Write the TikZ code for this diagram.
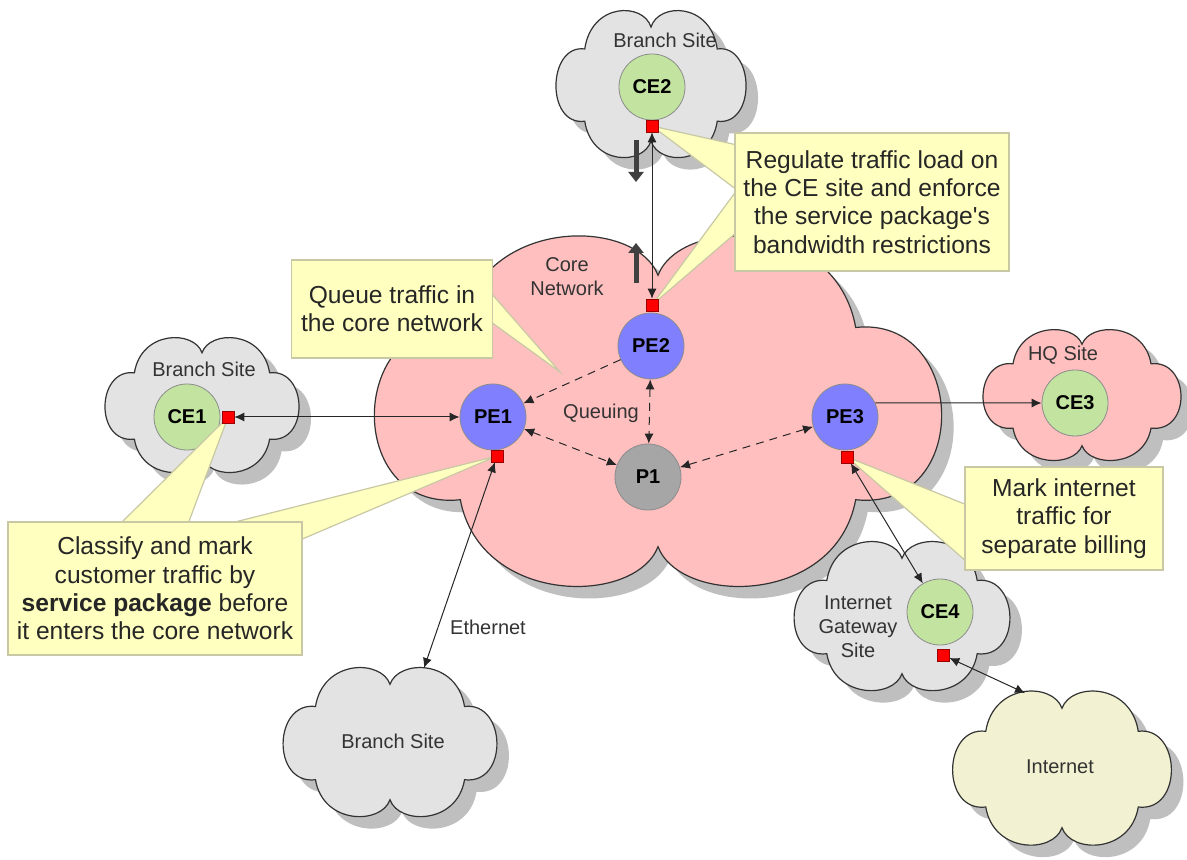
\documentclass[tikz,border=0pt]{standalone}
\usepackage{fontspec}
\setmainfont{Liberation Sans}[Ligatures=TeXOff]
\usetikzlibrary{arrows.meta}

\definecolor{sitegray}{RGB}{227,227,227}
\definecolor{corepink}{RGB}{255,191,191}
\definecolor{netyellow}{RGB}{242,242,210}
\definecolor{shadowgray}{RGB}{191,191,191}
\definecolor{cegreen}{RGB}{194,228,160}
\definecolor{peblue}{RGB}{128,128,255}
\definecolor{pgray}{RGB}{166,166,166}
\definecolor{notefill}{RGB}{255,255,192}
\definecolor{noteline}{RGB}{200,200,165}
\definecolor{arrowdark}{RGB}{64,64,64}

\tikzset{
  cloudpath/.style={insert path={(0,0.78)
    .. controls (0.08,1.12) and (0.62,1.12) .. (0.69,0.48)
    .. controls (1.08,0.55) and (1.1,-0.58) .. (0.69,-0.51)
    .. controls (0.62,-1.12) and (0.08,-1.12) .. (0,-0.78)
    .. controls (-0.08,-1.12) and (-0.62,-1.12) .. (-0.69,-0.51)
    .. controls (-1.1,-0.58) and (-1.08,0.55) .. (-0.69,0.48)
    .. controls (-0.62,1.12) and (-0.08,1.12) .. (0,0.78) -- cycle}},
  pics/site/.style n args={3}{code={
    \fill[shadowgray, shift={(12,12)}, xscale=#1, yscale=-#2, cloudpath];
    \draw[black!80, line width=0.6pt, fill=#3, xscale=#1, yscale=-#2, cloudpath];
    \coordinate (-c) at (0,0);
  }},
  router/.style={circle, minimum size=33pt, inner sep=0pt, draw=black!45,
    font=\bfseries\fontsize{10}{12}\selectfont},
  port/.style={rectangle, minimum size=6pt, inner sep=0pt, fill=red, draw=red!60!black, line width=0.3pt},
  lbl/.style={font=\fontsize{10}{12}\selectfont, text=black!80, align=center},
  note/.style={rectangle, fill=notefill, draw=noteline, line width=0.6pt, align=center,
    font=\fontsize{12.3}{14.2}\selectfont, text=black!85},
  wedge/.style={fill=notefill, draw=noteline, line width=0.6pt},
  link/.style={black!85, line width=0.5pt, {Latex[length=5pt,width=4.5pt]}-{Latex[length=5pt,width=4.5pt]}},
  qlink/.style={black!85, line width=0.5pt, dash pattern=on 4pt off 3pt},
  flow/.style={arrowdark, line width=2.5pt, -{Triangle[length=5pt,width=7.5pt]}}
}

\begin{document}
\begin{tikzpicture}[x=0.5pt,y=-0.5pt]
	\useasboundingbox (0,0) rectangle (1187,860);
	%\draw[help lines,step=50] (0,0) grid (1187,860);
	% sites
	\pic (core) at (658,411) {site={286.5}{174}{corepink}};
	\pic (brT) at (651,84) {site={96}{73}{sitegray}};
	\pic (brL) at (202,405) {site={98}{67}{sitegray}};
	\pic (hq) at (1082,395) {site={100}{65}{corepink}};
	\pic (gw) at (902,616) {site={109}{74}{sitegray}};
	\pic (inet) at (1062,768) {site={110.5}{76.5}{netyellow}};
	\pic (brB) at (390,742) {site={108}{74}{sitegray}};

	\node[lbl] (brTlbl) at (665,40) {Branch Site};
	\node[lbl] (brLlbl) at (204,369) {Branch Site};
	\node[lbl] (corelbl) at (567,277) {Core\\Network};
	\node[lbl] (hqlbl) at (1063,355) {HQ Site};
	\node[lbl] (gwlbl) at (858,627) {Internet\\Gateway\\Site};
	\node[lbl] (inetlbl) at (1060,767) {Internet};
	\node[lbl] (brBlbl) at (393,741) {Branch Site};
	\node[lbl] (queuelbl) at (601,413) {Queuing};
	\node[lbl] (ethlbl) at (488,627) {Ethernet};

	% routers
	\node[router, fill=cegreen] (ce2) at (652,87) {CE2};
	\node[router, fill=cegreen] (ce1) at (187,417) {CE1};
	\node[router, fill=cegreen] (ce3) at (1075,403) {CE3};
	\node[router, fill=cegreen] (ce4) at (940,612) {CE4};
	\node[router, fill=peblue] (pe1) at (493,417) {PE1};
	\node[router, fill=peblue] (pe2) at (651,346) {PE2};
	\node[router, fill=peblue] (pe3) at (845,417) {PE3};
	\node[router, fill=pgray] (p1) at (648,477) {P1};

	\coordinate (ce2p) at (652,126);
	\coordinate (pe2p) at (652,305);
	\coordinate (ce1p) at (228,417);
	\coordinate (pe1p) at (497,456);
	\coordinate (pe3p) at (847,457);
	\coordinate (ce4p) at (943,655);
	\coordinate (queuetip) at (560,372);

	% callouts
	\draw[wedge] (ce2p) -- (737,145) -- (737,190) -- cycle;
	\draw[wedge] (pe2p) -- (737,190) -- (737,232) -- cycle;
	\node[note, minimum width=137pt, minimum height=69pt] (regnote) at (872,202)
		{Regulate traffic load on\\the CE site and enforce\\the service package's\\bandwidth restrictions};
	\draw[wedge] (queuetip) -- (491,293) -- (491,322) -- cycle;
	\node[note, minimum width=100.5pt, minimum height=49pt] (queuenote) at (392,309)
		{Queue traffic in\\the core network};
	\draw[wedge] (ce1p) -- (120,524) -- (188,524) -- cycle;
	\draw[wedge] (pe1p) -- (227,524) -- (300,540) -- cycle;
	\node[note, minimum width=147pt, minimum height=66.5pt] (classnote) at (155,588.5)
		{Classify and mark\\customer traffic by\\\textbf{service package} before\\it enters the core network};
	\draw[wedge] (pe3p) -- (967,505) -- (967,562) -- cycle;
	\node[note, minimum width=99pt, minimum height=51.5pt] (marknote) at (1064,518.5)
		{Mark internet\\traffic for\\separate billing};

	% ports
	\node[port] (ce2port) at (ce2p) {};
	\node[port] (pe2port) at (pe2p) {};
	\node[port] (ce1port) at (ce1p) {};
	\node[port] (pe1port) at (pe1p) {};
	\node[port] (pe3port) at (pe3p) {};
	\node[port] (ce4port) at (ce4p) {};

	% links
	\coordinate (brBtop) at (424,668);
	\coordinate (inettop) at (1025,693);
	\draw[link] (ce2port) -- (pe2port);
	\draw[link] (ce1port) -- (pe1);
	\draw[link] (pe1port) -- (brBtop);
	\draw[link] (pe3port) -- (ce4);
	\draw[link] (ce4port) -- (inettop);
	\draw[black!85, line width=0.5pt, -{Latex[length=5pt,width=4.5pt]}] (pe3.25) -- (ce3.west);
	\draw[qlink, -{Latex[length=5pt,width=4.5pt]}] (pe2) -- (pe1);
	\draw[qlink, {Latex[length=5pt,width=4.5pt]}-{Latex[length=5pt,width=4.5pt]}] (pe2) -- (p1);
	\draw[qlink, {Latex[length=5pt,width=4.5pt]}-{Latex[length=5pt,width=4.5pt]}] (pe1) -- (p1);
	\draw[qlink, {Latex[length=5pt,width=4.5pt]}-{Latex[length=5pt,width=4.5pt]}] (p1) -- (pe3);

	% traffic direction
	\coordinate (dnA) at (636,140);
	\coordinate (dnB) at (636,182);
	\coordinate (upA) at (636,283);
	\coordinate (upB) at (636,243);
	\draw[flow] (dnA) -- (dnB);
	\draw[flow] (upA) -- (upB);
\end{tikzpicture}
\end{document}
